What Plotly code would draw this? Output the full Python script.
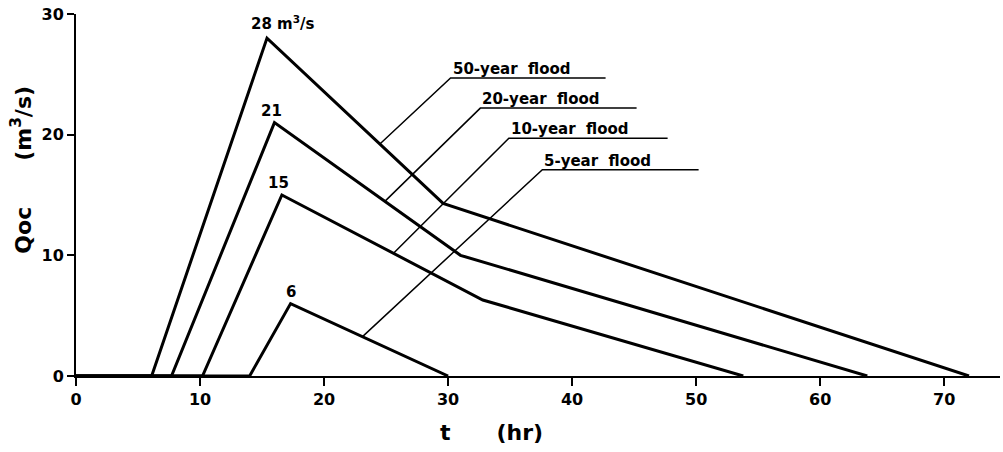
import numpy as np
import plotly.graph_objects as go

# Hydrograph vertices (t in hr, Qoc in m3/s) for each design flood
floods = ["50-year flood", "20-year flood", "10-year flood", "5-year flood"]
t_50 = [0, 6.1, 15.4, 29.6, 72.0]
q_50 = [0, 0, 28, 14.3, 0]
t_20 = [0, 7.7, 16.0, 31.0, 63.8]
q_20 = [0, 0, 21, 10.0, 0]
t_10 = [0, 10.2, 16.6, 32.8, 53.8]
q_10 = [0, 0, 15, 6.3, 0]
t_5 = [0, 14.0, 17.3, 30.0]
q_5 = [0, 0, 6, 0]

peak_labels = ["28 m<sup>3</sup>/s", "21", "15", "6"]

x_ticks = [0, 10, 20, 30, 40, 50, 60, 70]
y_ticks = [0, 10, 20, 30]

# Where each leader line meets its curve (t), and where its label shelf starts/ends
leader_t = [24.5, 24.9, 25.6, 23.1]
shelf_t0 = [30.2, 32.6, 34.9, 37.6]
shelf_t1 = [42.7, 45.2, 47.7, 50.2]
shelf_q = [24.7, 22.2, 19.7, 17.1]

FONT = "DejaVu Sans"
series = [(t_50, q_50), (t_20, q_20), (t_10, q_10), (t_5, q_5)]

fig = go.Figure()

for (t, q) in series:
    fig.add_trace(go.Scatter(x=t, y=q, mode="lines",
                             line=dict(color="black", width=3),
                             cliponaxis=False, hoverinfo="skip"))

annotations = []
for i, (t, q) in enumerate(series):
    # leader line from curve up to the label shelf, then along the shelf
    lt = leader_t[i]
    lq = float(np.interp(lt, t, q))
    fig.add_trace(go.Scatter(x=[lt, shelf_t0[i], shelf_t1[i]],
                             y=[lq, shelf_q[i], shelf_q[i]],
                             mode="lines", line=dict(color="black", width=1.5),
                             cliponaxis=False, hoverinfo="skip"))
    annotations.append(dict(x=shelf_t0[i], y=shelf_q[i], xref="x", yref="y",
                            text=floods[i].replace(" ", "\u00a0\u00a0"),
                            showarrow=False, xanchor="left", yanchor="bottom",
                            xshift=0, yshift=-2,
                            font=dict(family=FONT, size=15, color="black",
                                      weight="bold")))
    # peak value
    k = int(np.argmax(q))
    shifts = [(16, 15), (-3, 12), (-3, 12), (0, 12)][i]
    annotations.append(dict(x=t[k], y=q[k], xref="x", yref="y",
                            text=peak_labels[i], showarrow=False,
                            xanchor="center", yanchor="middle",
                            xshift=shifts[0], yshift=shifts[1],
                            font=dict(family=FONT, size=15, color="black",
                                      weight="bold")))

# axis titles
annotations.append(dict(x=0, y=17.1, xref="paper", yref="y",
                        text="Qoc" + "\u00a0" * 6 + "(m<sup>3</sup>/s)",
                        textangle=-90, showarrow=False, xshift=-55,
                        xanchor="center", yanchor="middle",
                        font=dict(family=FONT, size=22, color="black",
                                  weight="bold")))
annotations.append(dict(x=33.5, y=0, xref="x", yref="paper",
                        text="t" + "\u00a0" * 6 + "(hr)",
                        showarrow=False, yshift=-56,
                        xanchor="center", yanchor="middle",
                        font=dict(family=FONT, size=22, color="black",
                                  weight="bold")))

axis_common = dict(showline=True, linecolor="black", linewidth=2,
                   ticks="outside", tickcolor="black", tickwidth=2,
                   showgrid=False, zeroline=False,
                   tickfont=dict(family=FONT, size=16, color="black",
                                 weight="bold"))

fig.update_layout(
    width=1003, height=452,
    margin=dict(l=76, r=3, t=14, b=76),
    paper_bgcolor="white", plot_bgcolor="white",
    showlegend=False,
    xaxis=dict(range=[0, 74.5], tickvals=x_ticks, ticklen=8, **axis_common),
    yaxis=dict(range=[0, 30], tickvals=y_ticks, ticklen=7, **axis_common),
    annotations=annotations,
)

fig.write_html("out.html")
